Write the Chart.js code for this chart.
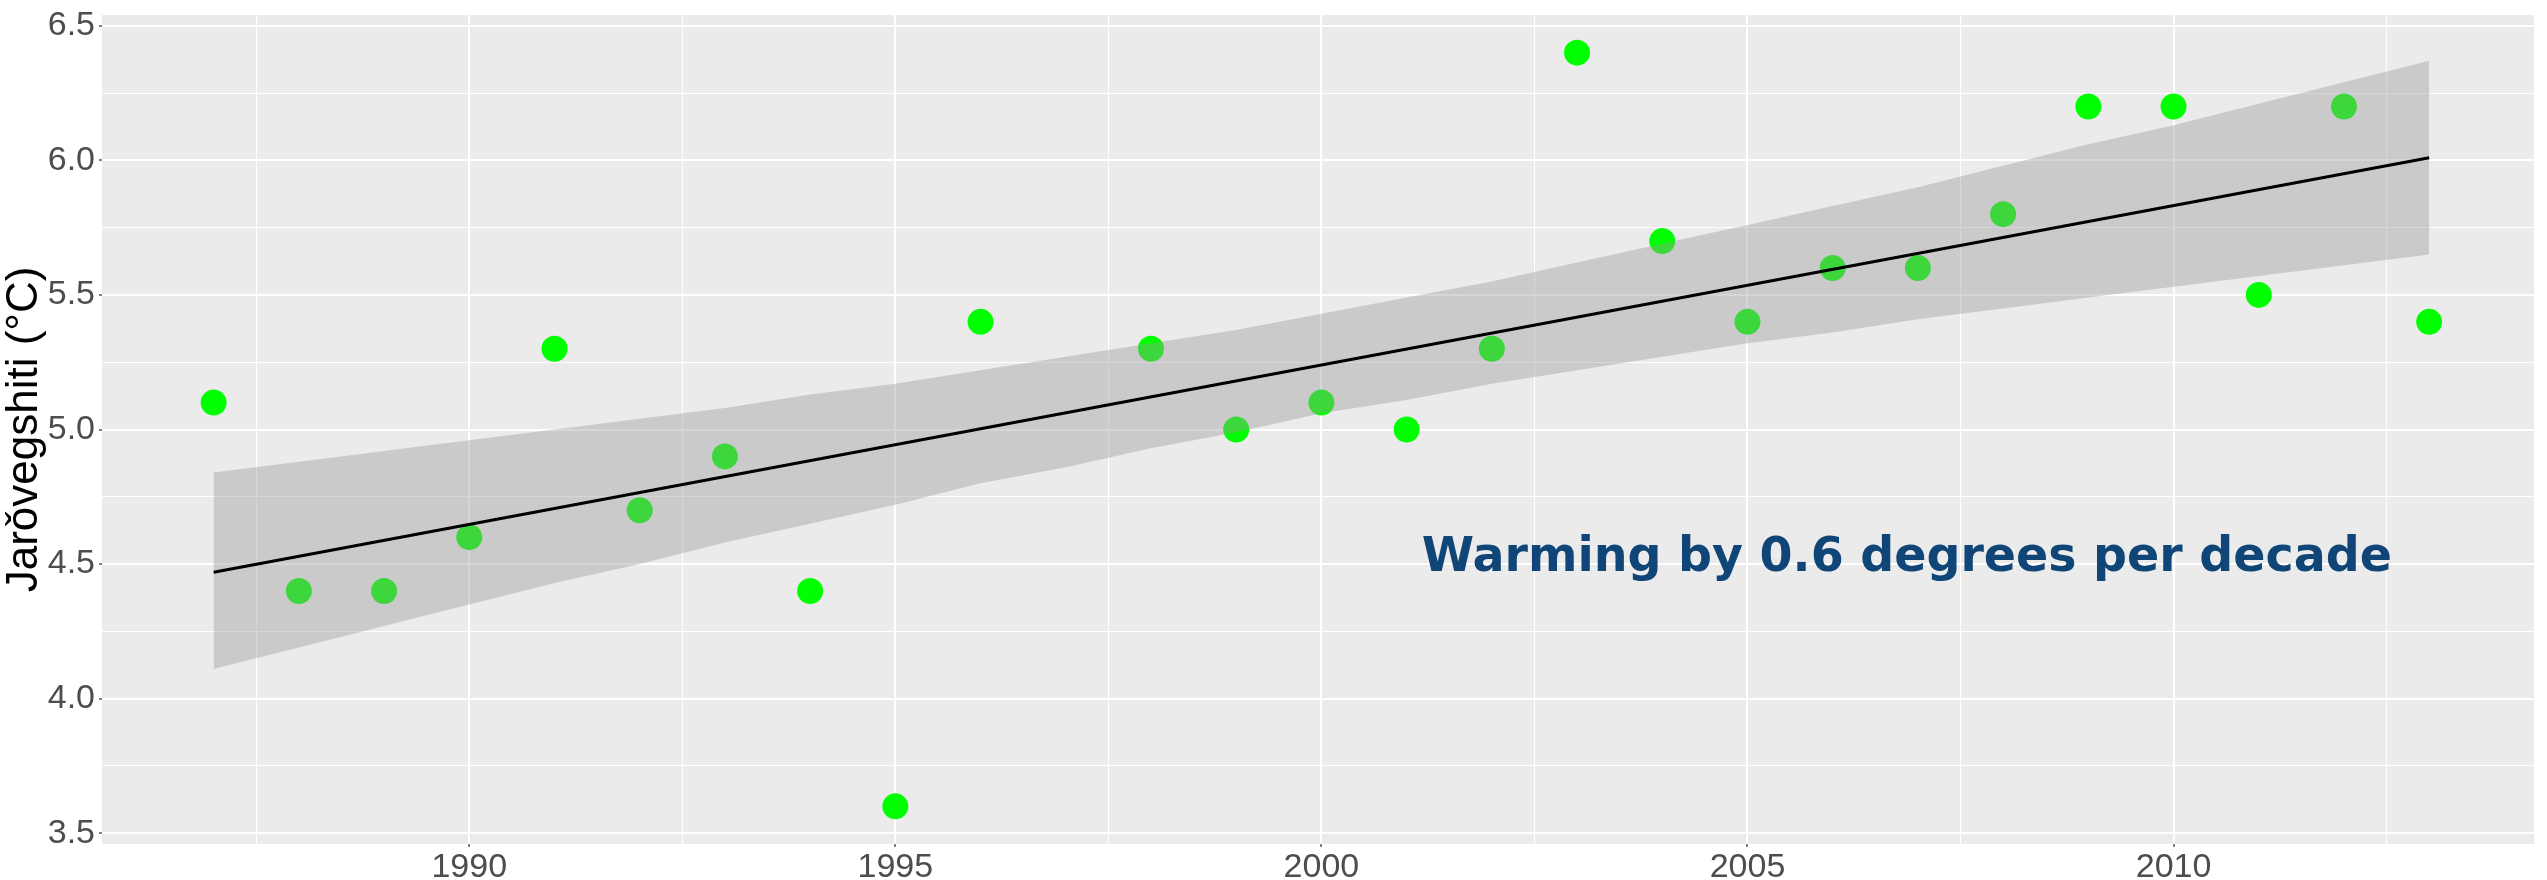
<!DOCTYPE html>
<html>
<head>
<meta charset="utf-8">
<title>Jarðvegshiti</title>
<script src="https://cdn.jsdelivr.net/npm/chart.js@4.4.1/dist/chart.umd.min.js"></script>
<style>
    html, body { margin: 0; padding: 0; background: #ffffff; overflow: hidden; }
    #soilChart { display: block; width: 2547px; height: 880px; }
</style>
</head>
<body>
<canvas id="soilChart" width="2547" height="880"></canvas>
<script>
// measured yearly values
const years = [1987, 1988, 1989, 1990, 1991, 1992, 1993, 1994, 1995, 1996,
    1998, 1999, 2000, 2001, 2002, 2003, 2004, 2005, 2006, 2007, 2008, 2009, 2010, 2011, 2012, 2013];
const temps = [5.1, 4.4, 4.4, 4.6, 5.3, 4.7, 4.9, 4.4, 3.6, 5.4,
    5.3, 5.0, 5.1, 5.0, 5.3, 6.4, 5.7, 5.4, 5.6, 5.6, 5.8, 6.2, 6.2, 5.5, 6.2, 5.4];

// trend line end points
const trendYears = [1987, 2013];
const trendValues = [4.47, 6.01];

const bandYears = [1987, 1988, 1989, 1990, 1991, 1992, 1993, 1994, 1995, 1996, 1997, 1998, 1999, 2000,
    2001, 2002, 2003, 2004, 2005, 2006, 2007, 2008, 2009, 2010, 2011, 2012, 2013];
const bandUpper = [4.84, 4.88, 4.92, 4.96, 5.00, 5.04, 5.08, 5.13, 5.17, 5.22, 5.27, 5.32, 5.37, 5.43,
    5.49, 5.55, 5.62, 5.69, 5.76, 5.83, 5.90, 5.98, 6.06, 6.13, 6.21, 6.29, 6.37];
const bandLower = [4.11, 4.19, 4.27, 4.35, 4.43, 4.50, 4.58, 4.65, 4.72, 4.80, 4.86, 4.93, 4.99, 5.06,
    5.11, 5.17, 5.22, 5.27, 5.32, 5.36, 5.41, 5.45, 5.49, 5.53, 5.57, 5.61, 5.65];

// axis ticks
const xMajorTicks = [1990, 1995, 2000, 2005, 2010];
const xMinorTicks = [1987.5, 1992.5, 1997.5, 2002.5, 2007.5, 2012.5];
const yMajorTicks = [3.5, 4.0, 4.5, 5.0, 5.5, 6.0, 6.5];
const yMinorTicks = [3.75, 4.25, 4.75, 5.25, 5.75, 6.25];

const yTitle = 'Jarǒvegshiti (°C)';
const noteText = 'Warming by 0.6 degrees per decade';

function toPoints(xs, ys) {
    return xs.map((x, i) => ({ x: x, y: ys[i] }));
}

function isMajor(list, v) {
    return list.some(m => Math.abs(m - v) < 1e-6);
}

function noScalePadding(scale) {
    scale.paddingTop = 0;
    scale.paddingBottom = 0;
    scale.paddingLeft = 0;
    scale.paddingRight = 0;
}

const panelBackground = {
    id: 'panelBackground',
    beforeDraw(chart) {
        const { ctx, chartArea } = chart;
        ctx.save();
        ctx.fillStyle = '#ebebeb';
        ctx.fillRect(chartArea.left, chartArea.top, chartArea.right - chartArea.left, chartArea.bottom - chartArea.top);
        ctx.restore();
    }
};

const noteLabel = {
    id: 'noteLabel',
    afterDatasetsDraw(chart) {
        const { ctx, scales } = chart;
        const px = scales.x.getPixelForValue(2006.87);
        const py = scales.y.getPixelForValue(4.474);
        ctx.save();
        ctx.font = 'bold 47.5px "DejaVu Sans"';
        ctx.fillStyle = '#0f4577';
        ctx.textAlign = 'center';
        ctx.textBaseline = 'alphabetic';
        ctx.fillText(noteText, px, py);
        ctx.restore();
    }
};

const tickFont = { family: '"Liberation Sans", Arial, sans-serif', size: 34 };

const config = {
    type: 'scatter',
    data: {
        datasets: [
            {
                type: 'line',
                label: 'trend',
                data: toPoints(trendYears, trendValues),
                borderColor: '#000000',
                borderWidth: 3,
                pointRadius: 0,
                fill: false,
                order: 0
            },
            {
                type: 'line',
                label: 'upper',
                data: toPoints(bandYears, bandUpper),
                borderWidth: 0,
                borderColor: 'rgba(0,0,0,0)',
                backgroundColor: 'rgba(153, 153, 153, 0.4)',
                pointRadius: 0,
                fill: '+1',
                order: 1
            },
            {
                type: 'line',
                label: 'lower',
                data: toPoints(bandYears, bandLower),
                borderWidth: 0,
                borderColor: 'rgba(0,0,0,0)',
                pointRadius: 0,
                fill: false,
                order: 1
            },
            {
                label: 'temp',
                data: toPoints(years, temps),
                backgroundColor: '#00ff00',
                borderWidth: 0,
                pointRadius: 13,
                pointHoverRadius: 13,
                order: 3
            }
        ]
    },
    options: {
        responsive: false,
        animation: false,
        events: [],
        layout: { padding: { top: 15, right: 0, bottom: 0, left: 0 } },
        plugins: {
            legend: { display: false },
            tooltip: { enabled: false }
        },
        scales: {
            x: {
                type: 'linear',
                min: 1985.69,
                max: 2014.23,
                afterBuildTicks: scale => {
                    scale.ticks = xMajorTicks.concat(xMinorTicks).sort((a, b) => a - b).map(v => ({ value: v }));
                },
                afterFit: scale => {
                    scale.height = 36;
                    noScalePadding(scale);
                },
                border: { display: false },
                grid: {
                    color: '#ffffff',
                    lineWidth: c => isMajor(xMajorTicks, c.tick.value) ? 2 : 1,
                    tickColor: c => isMajor(xMajorTicks, c.tick.value) ? '#555555' : 'rgba(0,0,0,0)',
                    tickWidth: 1.5,
                    tickLength: 3
                },
                ticks: {
                    autoSkip: false,
                    maxRotation: 0,
                    padding: 0,
                    color: '#4d4d4d',
                    font: tickFont,
                    callback: v => isMajor(xMajorTicks, v) ? String(v) : ''
                }
            },
            y: {
                type: 'linear',
                min: 3.46,
                max: 6.54,
                afterBuildTicks: scale => {
                    scale.ticks = yMajorTicks.concat(yMinorTicks).sort((a, b) => a - b).map(v => ({ value: v }));
                },
                afterFit: scale => {
                    scale.width = 102;
                    noScalePadding(scale);
                },
                border: { display: false },
                grid: {
                    color: '#ffffff',
                    lineWidth: c => isMajor(yMajorTicks, c.tick.value) ? 2 : 1,
                    tickColor: c => isMajor(yMajorTicks, c.tick.value) ? '#555555' : 'rgba(0,0,0,0)',
                    tickWidth: 1.5,
                    tickLength: 3
                },
                ticks: {
                    autoSkip: false,
                    padding: 4,
                    color: '#4d4d4d',
                    font: tickFont,
                    callback: v => isMajor(yMajorTicks, v) ? v.toFixed(1) : ''
                },
                title: {
                    display: true,
                    text: yTitle,
                    color: '#000000',
                    font: { family: '"Liberation Sans", Arial, sans-serif', size: 44, lineHeight: 1.0 },
                    padding: { top: 3, bottom: 0 }
                }
            }
        }
    },
    plugins: [panelBackground, noteLabel]
};

new Chart(document.getElementById('soilChart'), config);
</script>
</body>
</html>
